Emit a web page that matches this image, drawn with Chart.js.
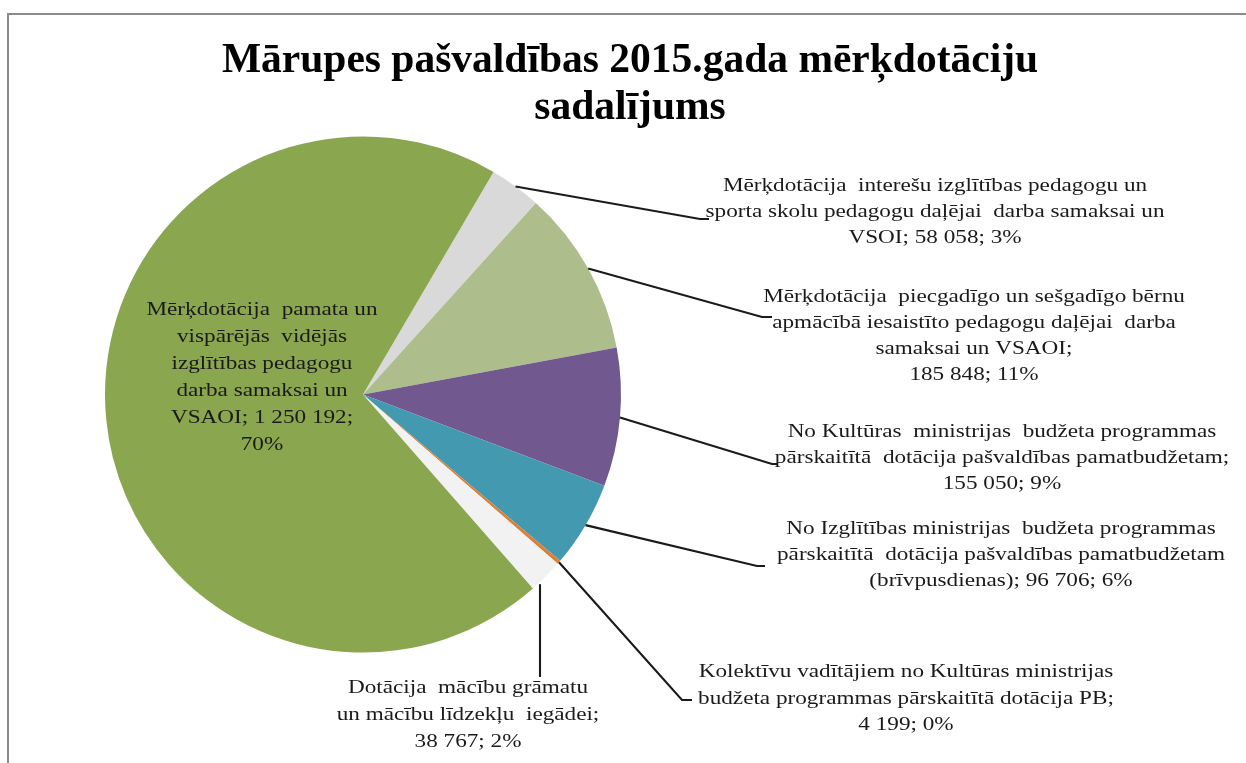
<!DOCTYPE html>
<html>
<head>
<meta charset="utf-8">
<script src="https://cdn.jsdelivr.net/npm/chart.js@4.4.1/dist/chart.umd.min.js"></script>
<style>
  html, body { margin: 0; padding: 0; background: #fff; }
  #wrap { width: 1246px; height: 763px; position: relative; overflow: hidden; }
</style>
</head>
<body>
<div id="wrap"><canvas id="pieChart" width="1246" height="763"></canvas></div>
<script>
// chart data
const titleLines = ["Mārupes pašvaldības 2015.gada mērķdotāciju", "sadalījums"];

const categories = [
  "Mērķdotācija interešu izglītības pedagogu un sporta skolu pedagogu daļējai darba samaksai un VSOI",
  "Mērķdotācija piecgadīgo un sešgadīgo bērnu apmācībā iesaistīto pedagogu daļējai darba samaksai un VSAOI",
  "No Kultūras ministrijas budžeta programmas pārskaitītā dotācija pašvaldības pamatbudžetam",
  "No Izglītības ministrijas budžeta programmas pārskaitītā dotācija pašvaldības pamatbudžetam (brīvpusdienas)",
  "Kolektīvu vadītājiem no Kultūras ministrijas budžeta programmas pārskaitītā dotācija PB",
  "Dotācija mācību grāmatu un mācību līdzekļu iegādei",
  "Mērķdotācija pamata un vispārējās vidējās izglītības pedagogu darba samaksai un VSAOI"
];
const values = [58058, 185848, 155050, 96706, 4199, 38767, 1250192];
const percents = ["3%", "11%", "9%", "6%", "0%", "2%", "70%"];

// label text, line by line ({v} = value, {p} = percent)
const labelLines = [
  ["Mērķdotācija  interešu izglītības pedagogu un", "sporta skolu pedagogu daļējai  darba samaksai un", "VSOI; {v}; {p}"],
  ["Mērķdotācija  piecgadīgo un sešgadīgo bērnu", "apmācībā iesaistīto pedagogu daļējai  darba", "samaksai un VSAOI;", "{v}; {p}"],
  ["No Kultūras  ministrijas  budžeta programmas", "pārskaitītā  dotācija pašvaldības pamatbudžetam;", "{v}; {p}"],
  ["No Izglītības ministrijas  budžeta programmas", "pārskaitītā  dotācija pašvaldības pamatbudžetam", "(brīvpusdienas); {v}; {p}"],
  ["Kolektīvu vadītājiem no Kultūras ministrijas", "budžeta programmas pārskaitītā dotācija PB;", "{v}; {p}"],
  ["Dotācija  mācību grāmatu", "un mācību līdzekļu  iegādei;", "{v}; {p}"],
  ["Mērķdotācija  pamata un", "vispārējās  vidējās", "izglītības pedagogu", "darba samaksai un", "VSAOI; {v};", "{p}"]
];

const colors = ["#D9D9D9", "#ADBE8C", "#71588F", "#4299B0", "#DA8137", "#F2F2F2", "#8AA64F"];

// where each label sits (center x, first baseline) and how its leader line bends
const labelPos = [
  { x: 935, y: 191, lh: 26, leader: [[700, 219], [709, 219]] },
  { x: 974, y: 302, lh: 26, leader: [[762, 317], [772, 317]] },
  { x: 1002, y: 437, lh: 26, leader: [[772, 464], [778, 464]] },
  { x: 1001, y: 534, lh: 26, leader: [[757, 566], [765, 566]] },
  { x: 906, y: 677, lh: 26.5, leader: [[682, 700], [692, 700]] },
  { x: 468, y: 693, lh: 27, leader: [[540, 677]], vertical: true },
  { x: 262, y: 315, lh: 27, leader: null }
];

const fmt = (n) => String(n).replace(/\B(?=(\d{3})+(?!\d))/g, " ");

const labelPlugin = {
  id: "excelLabels",
  afterDraw(chart) {
    const ctx = chart.ctx;
    const meta = chart.getDatasetMeta(0);

    // frame
    ctx.save();
    ctx.strokeStyle = "#8a8a8a";
    ctx.lineWidth = 2;
    ctx.strokeRect(8, 14, 1400, 900);
    ctx.restore();

    // title
    ctx.save();
    ctx.fillStyle = "#000";
    ctx.font = "bold 41.5px 'Liberation Serif', 'Times New Roman', serif";
    ctx.textAlign = "center";
    ctx.textBaseline = "alphabetic";
    ctx.fillText(titleLines[0], 630, 72);
    ctx.fillText(titleLines[1], 630, 119);
    ctx.restore();

    meta.data.forEach((arc, i) => {
      const pos = labelPos[i];
      const mid = (arc.startAngle + arc.endAngle) / 2;
      const r = arc.outerRadius;

      // leader line
      if (pos.leader) {
        let sx = arc.x + r * Math.cos(mid);
        let sy = arc.y + r * Math.sin(mid);
        if (pos.vertical) {
          sx = pos.leader[0][0];
          sy = arc.y + Math.sqrt(r * r - (sx - arc.x) * (sx - arc.x)) + 2;
        }
        ctx.save();
        ctx.strokeStyle = "#1a1a1a";
        ctx.lineWidth = 2.1;
        ctx.beginPath();
        ctx.moveTo(sx, sy);
        pos.leader.forEach((p) => ctx.lineTo(p[0], p[1]));
        ctx.stroke();
        ctx.restore();
      }

      // label text
      ctx.save();
      ctx.fillStyle = "#1a1a1a";
      ctx.font = "19px 'Liberation Serif', 'Times New Roman', serif";
      ctx.textAlign = "center";
      ctx.textBaseline = "alphabetic";
      labelLines[i].forEach((line, k) => {
        const txt = line.replace("{v}", fmt(values[i])).replace("{p}", percents[i]);
        ctx.save();
        ctx.translate(pos.x, pos.y + k * pos.lh);
        ctx.scale(1.22, 1);
        ctx.fillText(txt, 0, 0);
        ctx.restore();
      });
      ctx.restore();
    });
  }
};

const ctx = document.getElementById("pieChart").getContext("2d");
new Chart(ctx, {
  type: "pie",
  data: {
    labels: categories,
    datasets: [{
      data: values,
      backgroundColor: colors,
      borderWidth: 0
    }]
  },
  options: {
    responsive: false,
    animation: false,
    devicePixelRatio: 1,
    rotation: 30.4,
    layout: { padding: { left: 105, top: 136, right: 625, bottom: 110 } },
    plugins: {
      legend: { display: false },
      tooltip: { enabled: false },
      title: { display: false }
    }
  },
  plugins: [labelPlugin]
});
</script>
</body>
</html>
